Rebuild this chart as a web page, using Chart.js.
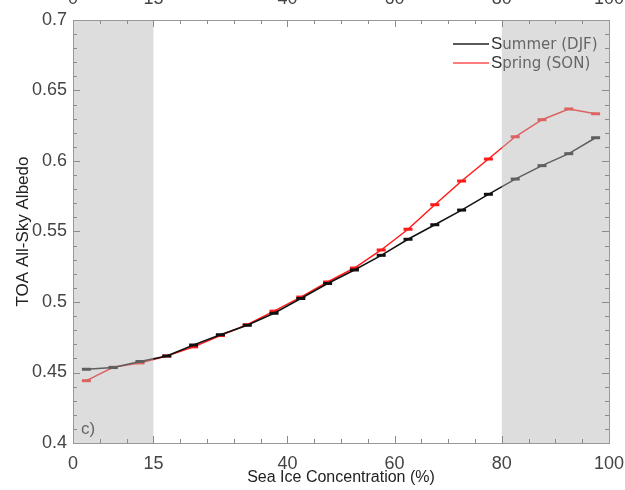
<!DOCTYPE html>
<html>
<head>
<meta charset="utf-8">
<script src="https://cdn.jsdelivr.net/npm/chart.js@4/dist/chart.umd.min.js"></script>
<style>
  html, body { margin: 0; padding: 0; background: #fff; overflow: hidden; }
  #wrap { position: relative; width: 625px; height: 490px; overflow: hidden; }
  #c { position: absolute; left: 0; top: -10px; }
</style>
</head>
<body>
<div id="wrap"><canvas id="c" width="625" height="500"></canvas></div>
<script>
// sea ice concentration bin centres (%)
var iceBins = [2.5, 7.5, 12.5, 17.5, 22.5, 27.5, 32.5, 37.5, 42.5, 47.5,
               52.5, 57.5, 62.5, 67.5, 72.5, 77.5, 82.5, 87.5, 92.5, 97.5];
var summerDJF = [0.4523, 0.4535, 0.4578, 0.4617, 0.4695, 0.4768, 0.4835, 0.4920, 0.5025, 0.5131,
                 0.5227, 0.5331, 0.5445, 0.5548, 0.5652, 0.5764, 0.5872, 0.5967, 0.6052, 0.6165];
var springSON = [0.4442, 0.4537, 0.4568, 0.4617, 0.4682, 0.4762, 0.4839, 0.4935, 0.5035, 0.5142,
                 0.5241, 0.5369, 0.5516, 0.5690, 0.5858, 0.6014, 0.6172, 0.6293, 0.6369, 0.6335];
var xTickLabels = [0, 15, 40, 60, 80, 100];
var yTickLabels = [0.4, 0.45, 0.5, 0.55, 0.6, 0.65, 0.7];
var shadedRanges = [[0, 15], [80, 100]];

var labelFont = { family: "'Liberation Sans', Arial, sans-serif", size: 18 };
var labelColor = '#444';

function pts(ys) {
    return iceBins.map(function(x, i) { return { x: x, y: ys[i] }; });
}

// grey boxes over the marginal zones, inner ticks, legend and panel letter
var decor = {
    id: 'decor',
    afterDatasetsDraw: function(chart) {
        var ctx = chart.ctx, a = chart.chartArea;
        var xs = chart.scales.x, ys = chart.scales.y;
        ctx.save();
        ctx.fillStyle = 'rgba(182,182,182,0.47)';
        shadedRanges.forEach(function(r) {
            var x0 = xs.getPixelForValue(r[0]), x1 = xs.getPixelForValue(r[1]);
            ctx.fillRect(x0, a.top, x1 - x0, a.bottom - a.top);
        });

        ctx.strokeStyle = '#8a8a8a';
        ctx.lineWidth = 1;
        ctx.beginPath();
        // x ticks every 5
        for (var v = 0; v <= 100; v += 5) {
            var px = Math.round(xs.getPixelForValue(v)) + 0.5;
            var len = xTickLabels.indexOf(v) >= 0 ? 7 : 4;
            ctx.moveTo(px, a.bottom); ctx.lineTo(px, a.bottom - len);
            ctx.moveTo(px, a.top); ctx.lineTo(px, a.top + len);
        }
        // y ticks every 0.01
        for (var k = 0; k <= 30; k++) {
            var py = Math.round(ys.getPixelForValue(0.4 + k * 0.01)) + 0.5;
            var l2 = (k % 5 === 0) ? 7 : 4;
            ctx.moveTo(a.left, py); ctx.lineTo(a.left + l2, py);
            ctx.moveTo(a.right, py); ctx.lineTo(a.right - l2, py);
        }
        ctx.stroke();
        ctx.strokeStyle = '#999';
        ctx.strokeRect(Math.round(a.left) + 0.5, Math.round(a.top) + 0.5,
                       Math.round(a.right - a.left), Math.round(a.bottom - a.top));

        // legend
        var ds = chart.data.datasets;
        ds.forEach(function(d, i) {
            var y = a.top + 24 + i * 19;
            ctx.strokeStyle = d.legendColor;
            ctx.lineWidth = 1.5;
            ctx.beginPath();
            ctx.moveTo(a.left + 380, y); ctx.lineTo(a.left + 416, y);
            ctx.stroke();
            ctx.textBaseline = 'middle';
            ctx.textAlign = 'left';
            ctx.fillStyle = '#333';
            ctx.font = "17px 'Liberation Sans', Arial, sans-serif";
            ctx.fillText(d.label.charAt(0), a.left + 418, y);
            var w = ctx.measureText(d.label.charAt(0)).width;
            ctx.fillStyle = '#666';
            ctx.font = "15px 'DejaVu Sans', sans-serif";
            ctx.fillText(d.label.slice(1), a.left + 418 + w, y + 1);
        });

        ctx.fillStyle = '#666';
        ctx.font = "17px 'Liberation Sans', Arial, sans-serif";
        ctx.textAlign = 'left';
        ctx.textBaseline = 'middle';
        ctx.fillText('c)', a.left + 8, a.bottom - 14);
        ctx.restore();
    }
};

function xTicks(pad) {
    return {
        font: labelFont, color: labelColor, padding: pad,
        maxRotation: 0, autoSkip: false,
        callback: function(v) { return String(v); }
    };
}

function fixX(h) {
    return function(s) { s.height = h; s.paddingLeft = 0; s.paddingRight = 0; };
}
function fixY(w) {
    return function(s) { s.width = w; s.paddingTop = 0; s.paddingBottom = 0; };
}

new Chart(document.getElementById('c'), {
    type: 'line',
    data: {
        datasets: [
            { label: 'Summer (DJF)', data: pts(summerDJF), borderColor: '#111', legendColor: '#222',
              borderWidth: 1.5, pointStyle: 'line', pointRadius: 4.5, pointBorderWidth: 3,
              pointBorderColor: '#111', tension: 0, fill: false },
            { label: 'Spring (SON)', data: pts(springSON), borderColor: '#ff1a1a', legendColor: '#ff5050',
              borderWidth: 1.5, pointStyle: 'line', pointRadius: 4.5, pointBorderWidth: 3,
              pointBorderColor: '#ff1a1a', tension: 0, fill: false }
        ]
    },
    options: {
        responsive: false,
        animation: false,
        devicePixelRatio: 1,
        layout: { padding: 0 },
        plugins: { legend: { display: false }, tooltip: { enabled: false } },
        scales: {
            x: {
                type: 'linear', position: 'bottom', min: 0, max: 100,
                afterBuildTicks: function(s) { s.ticks = xTickLabels.map(function(v) { return { value: v }; }); },
                ticks: xTicks(10),
                grid: { display: false, drawTicks: false }, border: { display: false },
                title: { display: true, text: 'Sea Ice Concentration (%)', color: '#222',
                         font: { family: "'Liberation Sans', Arial, sans-serif", size: 16 },
                         padding: { top: 0, bottom: 3 } },
                afterFit: fixX(47)
            },
            x2: {
                type: 'linear', position: 'top', min: 0, max: 100,
                afterBuildTicks: function(s) { s.ticks = xTickLabels.map(function(v) { return { value: v }; }); },
                ticks: xTicks(10),
                grid: { display: false, drawTicks: false }, border: { display: false },
                afterFit: fixX(30)
            },
            y: {
                min: 0.4, max: 0.7,
                afterBuildTicks: function(s) { s.ticks = yTickLabels.map(function(v) { return { value: v }; }); },
                ticks: { font: labelFont, color: labelColor, padding: 6,
                         callback: function(v) { return String(+v.toFixed(2)); } },
                grid: { display: false, drawTicks: false }, border: { display: false },
                title: { display: true, text: 'TOA All-Sky Albedo', color: '#222',
                         font: { family: "'Liberation Sans', Arial, sans-serif", size: 17 },
                         padding: { top: 13, bottom: 0 } },
                afterFit: fixY(73)
            },
            y2: {
                position: 'right', min: 0.4, max: 0.7,
                ticks: { display: false },
                grid: { display: false, drawTicks: false }, border: { display: false },
                afterFit: fixY(16)
            }
        }
    },
    plugins: [decor]
});
</script>
</body>
</html>
